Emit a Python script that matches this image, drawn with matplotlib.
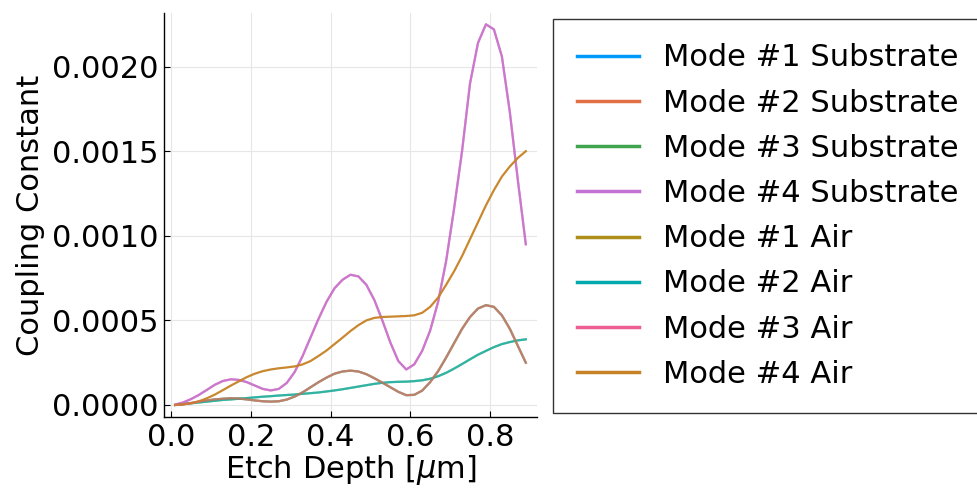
import matplotlib
matplotlib.use("Agg")
import matplotlib.pyplot as plt

# etch depth samples [um]
etch_depth = [0.01, 0.03, 0.05, 0.07, 0.09, 0.11, 0.13, 0.15, 0.17, 0.19,
              0.21, 0.23, 0.25, 0.27, 0.29, 0.31, 0.33, 0.35, 0.37, 0.39,
              0.41, 0.43, 0.45, 0.47, 0.49, 0.51, 0.53, 0.55, 0.57, 0.59,
              0.61, 0.63, 0.65, 0.67, 0.69, 0.71, 0.73, 0.75, 0.77, 0.79,
              0.81, 0.83, 0.85, 0.87, 0.89]

# coupling constants (units of 1e-4)
mode4_sub = [0.02, 0.15, 0.35, 0.6, 0.9, 1.2, 1.42, 1.52, 1.48, 1.35,
             1.15, 0.95, 0.86, 0.95, 1.3, 1.95, 2.9, 4.0, 5.1, 6.1,
             6.9, 7.4, 7.7, 7.6, 7.1, 6.2, 5.0, 3.7, 2.6, 2.1,
             2.4, 3.2, 4.4, 6.1, 8.5, 11.6, 15.0, 19.0, 21.4, 22.5,
             22.2, 20.6, 17.3, 13.3, 9.5]
mode4_air = [0, 0.03, 0.1, 0.22, 0.4, 0.62, 0.88, 1.15, 1.4, 1.65,
             1.85, 2.0, 2.1, 2.17, 2.22, 2.28, 2.4, 2.6, 2.9, 3.22,
             3.6, 3.98, 4.37, 4.72, 5.0, 5.15, 5.2, 5.22, 5.24, 5.26,
             5.3, 5.45, 5.8, 6.35, 7.1, 7.9, 8.8, 9.8, 10.8, 11.8,
             12.7, 13.5, 14.1, 14.6, 15.0]
# modes 1 & 2 substrate and mode 1 air lie on top of each other
mode_low_a = [0, 0.05, 0.12, 0.2, 0.27, 0.33, 0.37, 0.4, 0.38, 0.33,
              0.27, 0.22, 0.2, 0.22, 0.32, 0.5, 0.75, 1.05, 1.35, 1.62,
              1.85, 1.98, 2.03, 1.98, 1.82, 1.58, 1.32, 1.05, 0.78, 0.58,
              0.6, 0.85, 1.35, 2.0, 2.8, 3.65, 4.5, 5.2, 5.7, 5.9,
              5.8, 5.3, 4.5, 3.5, 2.5]
# mode 3 substrate and mode 2 air lie on top of each other
mode_low_b = [0, 0.05, 0.1, 0.15, 0.2, 0.25, 0.3, 0.33, 0.37, 0.41,
              0.45, 0.49, 0.52, 0.56, 0.59, 0.62, 0.66, 0.7, 0.74, 0.8,
              0.86, 0.93, 1.01, 1.09, 1.17, 1.25, 1.31, 1.35, 1.37, 1.38,
              1.41, 1.46, 1.55, 1.7, 1.9, 2.15, 2.42, 2.7, 2.97, 3.2,
              3.42, 3.6, 3.72, 3.82, 3.88]

labels = ["Mode #1 Substrate", "Mode #2 Substrate", "Mode #3 Substrate", "Mode #4 Substrate",
          "Mode #1 Air", "Mode #2 Air", "Mode #3 Air", "Mode #4 Air"]
series = [mode_low_a, mode_low_a, mode_low_b, mode4_sub,
          mode_low_a, mode_low_b, mode4_sub, mode4_air]
colors = ["#009AFA", "#E36F47", "#3EA44E", "#C371D2",
          "#AC8E18", "#00A9AD", "#ED5E93", "#C68225"]
alphas = [0.5, 0.7, 0.6, 0.85, 0.6, 0.65, 0.6, 0.95]
zorders = [3, 4, 2, 3, 2, 3, 2, 3]

fig = plt.figure(figsize=(9.77, 4.9), dpi=100)
ax = fig.add_axes([0.168, 0.149, 0.382, 0.8245])

lines = []
for ys, lab, c, a, z in zip(series, labels, colors, alphas, zorders):
    l, = ax.plot(etch_depth, [v * 1e-4 for v in ys], color=c, lw=1.6, alpha=a,
                 zorder=z, label=lab)
    lines.append(l)

ax.set_xlim(-0.0176, 0.919)
ax.set_ylim(-0.0000709, 0.002317)
ax.set_xticks([0.0, 0.2, 0.4, 0.6, 0.8])
ax.set_yticks([0.0, 0.0005, 0.0010, 0.0015, 0.0020])
ax.set_yticklabels(["0.0000", "0.0005", "0.0010", "0.0015", "0.0020"])
ax.grid(True, color="#e6e6e6", lw=0.8)
ax.set_axisbelow(True)
for s in ["top", "right"]:
    ax.spines[s].set_visible(False)
for s in ["left", "bottom"]:
    ax.spines[s].set_linewidth(1.0)
ax.tick_params(direction="in", length=4, width=0.8, labelsize=22, pad=4)
ax.set_xlabel("Etch Depth [$\\mu$m]", fontsize=22, labelpad=1)
ax.set_ylabel("Coupling Constant", fontsize=22, labelpad=5)

leg = fig.legend(handles=lines, loc="upper left", bbox_to_anchor=(553 / 977, 1 - 19 / 490),
                 fontsize=22, frameon=True, fancybox=False, handlelength=2.0,
                 handletextpad=0.8, labelspacing=0.53, borderpad=0.8, borderaxespad=0)
leg.get_frame().set_edgecolor("black")
leg.get_frame().set_linewidth(1.0)
for h in leg.get_lines():
    h.set_alpha(1.0)
    h.set_linewidth(2.5)

fig.savefig("out.png", dpi=100)
